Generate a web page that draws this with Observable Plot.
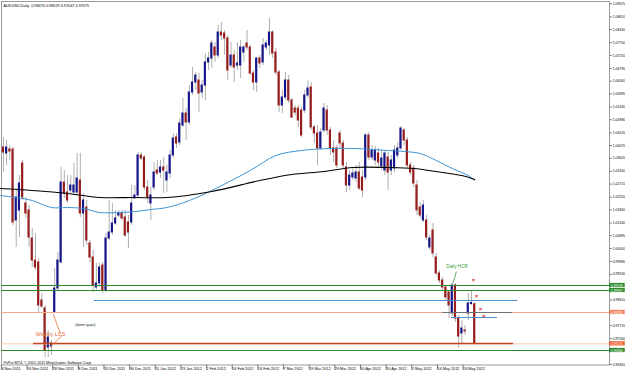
<!DOCTYPE html>
<html><head><meta charset="utf-8">
<script src="https://cdn.jsdelivr.net/npm/d3@7"></script>
<script src="https://cdn.jsdelivr.net/npm/@observablehq/plot@0.6"></script>
<style>
html,body{margin:0;padding:0;background:#fff;}
#chart svg{display:block;}
</style></head><body><div id="chart"></div>
<script>
const title = "AUDUSD,Daily  0.98470 0.98529 0.97047 0.97075";
const copyright = "PxPro MT4, \u00a9 2001-2011 MetaQuotes Software Corp.";

// Daily candles, 7 Nov 2011 .. 30 May 2012 (bar index 0..147)
const opens = [1.04001,1.03790,1.03931,1.03931,1.01426,1.01779,1.03437,1.02025,1.01779,1.00791,
1.00015,0.99945,0.98604,0.98322,0.96946,0.96982,0.98181,0.99027,0.99945,1.02766,
1.02414,1.02484,1.02414,1.02414,1.02837,1.01673,1.01884,1.00615,1.00121,0.99063,
0.99204,0.99839,0.98957,1.00791,1.01003,1.01320,1.01602,1.01673,1.01532,1.01355,
1.01355,1.02202,1.02308,1.03719,1.03648,1.02590,1.02025,1.02590,1.03190,1.03119,
1.03295,1.02837,1.03084,1.03719,1.04354,1.04178,1.04777,1.05200,1.04883,1.05941,
1.06294,1.06364,1.05941,1.06188,1.06999,1.07140,1.07528,1.07246,1.08057,1.08022,
1.07846,1.06893,1.07246,1.06893,1.06893,1.07352,1.07669,1.07528,1.06611,1.06294,
1.07140,1.06999,1.07528,1.07599,1.08057,1.07352,1.06646,1.05482,1.05765,1.06364,
1.05659,1.05377,1.05377,1.05306,1.05306,1.05835,1.06118,1.04707,1.04495,1.03966,
1.04601,1.05306,1.04601,1.03966,1.03966,1.04495,1.04142,1.03295,1.02661,1.02943,
1.02907,1.03119,1.02943,1.02943,1.04425,1.03648,1.03543,1.03790,1.03331,1.03190,
1.03648,1.03190,1.03260,1.03719,1.03966,1.04601,1.04248,1.03366,1.03260,1.02661,
1.01884,1.01426,1.01426,1.00474,1.01073,1.00121,0.99557,0.99310,0.99063,0.98886,
0.98146,0.99133,0.97969,0.97440,0.97546,0.98146,0.98481,0.98470];
const highs = [1.04354,1.04248,1.04072,1.04001,1.02484,1.03013,1.03543,1.02237,1.01955,1.01144,
1.00967,1.00086,0.98851,0.98428,0.97546,0.97193,0.99733,1.00297,1.03295,1.03190,
1.03013,1.03013,1.03437,1.03790,1.03790,1.02378,1.02131,1.00720,1.00368,0.99909,
0.99909,0.99945,1.00967,1.02131,1.02025,1.01779,1.01779,1.01779,1.01779,1.01602,
1.02661,1.02661,1.03825,1.03825,1.03719,1.02837,1.02590,1.03472,1.03543,1.03543,
1.03648,1.03366,1.03896,1.04495,1.04495,1.05024,1.05729,1.05377,1.06188,1.06823,
1.06646,1.06611,1.06364,1.07316,1.07352,1.07777,1.07705,1.08304,1.08410,1.08128,
1.07951,1.07705,1.07422,1.07705,1.07777,1.07599,1.08128,1.07599,1.06717,1.07175,
1.07246,1.07846,1.07777,1.08551,1.08128,1.07493,1.06717,1.06011,1.06646,1.06541,
1.05729,1.05482,1.05482,1.05412,1.06011,1.06364,1.06294,1.04777,1.04777,1.04671,
1.05553,1.05482,1.04707,1.04248,1.04072,1.04601,1.04248,1.03472,1.03190,1.03260,
1.03366,1.03472,1.03190,1.04495,1.04530,1.04072,1.04037,1.03966,1.03896,1.03896,
1.03825,1.03719,1.04072,1.04178,1.04742,1.04671,1.04354,1.03472,1.03366,1.02837,
1.02061,1.02131,1.01602,1.00897,1.01320,1.00262,0.99662,0.99416,0.99133,0.98957,
0.99239,0.99204,0.98075,0.97899,0.97722,0.98851,0.98957,0.98529];
const lows = [1.03119,1.03366,1.03543,1.01250,1.00474,1.00826,1.02131,1.01496,1.00474,0.99768,
0.99662,0.98146,0.98322,0.96593,0.96593,0.96664,0.98146,0.98957,0.99909,1.02202,
1.02025,1.02378,1.02308,1.02308,1.01532,1.00474,1.00544,0.99945,0.98886,0.98957,
0.99063,0.98851,0.98886,1.00720,1.00897,1.01250,1.01532,1.01426,1.00826,1.00438,
1.01250,1.02167,1.02237,1.03543,1.02484,1.02025,1.01426,1.02484,1.03013,1.02907,
1.02378,1.02414,1.02907,1.03613,1.03966,1.04072,1.04707,1.04248,1.04777,1.05835,
1.06011,1.05235,1.05729,1.05659,1.06717,1.06787,1.06999,1.07140,1.07777,1.07246,
1.06364,1.06787,1.06294,1.06717,1.06435,1.06999,1.07422,1.06541,1.06011,1.05941,
1.06787,1.06893,1.07422,1.07246,1.07140,1.06541,1.05235,1.05200,1.05659,1.05553,
1.05024,1.05130,1.04707,1.04354,1.05200,1.05729,1.04601,1.04142,1.03366,1.03896,
1.04495,1.04425,1.03719,1.03472,1.03260,1.03966,1.03260,1.02414,1.02484,1.02837,
1.02766,1.02484,1.02237,1.02837,1.03543,1.03543,1.03366,1.03331,1.03190,1.03013,
1.02484,1.03013,1.03119,1.03613,1.03896,1.04072,1.03260,1.03013,1.02590,1.01602,
1.01496,1.01355,1.00720,1.00368,1.00121,0.99486,0.99204,0.98957,0.98604,0.97969,
0.98040,0.97828,0.96911,0.97087,0.97370,0.97899,0.98428,0.97047];
const closes = [1.03825,1.04001,1.03860,1.01355,1.02237,1.02731,1.02237,1.01673,1.00826,1.00015,
0.99768,0.98428,0.98393,0.96840,0.97299,0.97087,0.99027,1.00015,1.02766,1.02378,
1.02131,1.02661,1.02661,1.02907,1.01673,1.02131,1.00720,1.00121,0.99133,0.99204,
0.99768,0.98957,1.00791,1.01003,1.01320,1.01496,1.01673,1.01496,1.00897,1.01003,
1.02025,1.02308,1.03719,1.03613,1.02590,1.02237,1.02308,1.03119,1.03084,1.03295,
1.03190,1.03119,1.03719,1.04319,1.04142,1.04848,1.05200,1.04883,1.05941,1.06294,
1.06541,1.05906,1.06188,1.06999,1.07140,1.07669,1.07246,1.08057,1.07951,1.07846,
1.06717,1.07246,1.06823,1.06964,1.07528,1.07528,1.07528,1.06611,1.06294,1.07140,
1.06964,1.07599,1.07669,1.08057,1.07316,1.06646,1.05482,1.05765,1.06364,1.05659,
1.05059,1.05235,1.04954,1.04425,1.05835,1.06082,1.04707,1.04495,1.03966,1.04530,
1.05377,1.04601,1.03966,1.03825,1.03366,1.04142,1.03366,1.02661,1.03013,1.03084,
1.03119,1.02555,1.02484,1.04425,1.03648,1.03896,1.03896,1.03472,1.03613,1.03790,
1.03119,1.03543,1.03896,1.03966,1.04671,1.04248,1.03366,1.03119,1.02731,1.01779,
1.01602,1.01955,1.00826,1.00791,1.00262,0.99557,0.99310,0.99063,0.98710,0.98428,
0.99133,0.97969,0.97335,0.97616,0.97511,0.98498,0.98516,0.97075];

// Moving averages (read at a few bars)
const maBlueIdx = [-1,4,9,15,20,25,30,36,41,46,51,58,65,77,85,93,102,109,120,125,130,135,140,145,147];
const maBlueVal = [1.02308,1.02237,1.02131,1.01884,1.01884,1.01849,1.01708,1.01708,1.01743,1.01814,1.01884,1.02131,1.02484,1.03190,1.03719,1.03896,1.03966,1.03966,1.03896,1.03860,1.03790,1.03543,1.03260,1.03013,1.02837];
const maBlackIdx = [-1,9,20,30,41,51,65,80,90,100,109,120,128,135,143,147];
const maBlackVal = [1.02555,1.02484,1.02378,1.02237,1.02237,1.02237,1.02449,1.02837,1.03048,1.03154,1.03295,1.03295,1.03260,1.03154,1.03013,1.02872];

// Horizontal levels across the whole chart
const levelPrices = [0.99133, 0.98957, 0.98181, 0.97075, 0.96840];
const levelKinds = ["green", "green", "orange", "bid", "green"];
// Horizontal segments
const segPrices = [0.98604, 0.98004, 0.98181, 0.97087];
const segFrom = [28.4, 139.8, 137, 9.4];
const segTo = [160.4, 154.1, 158.8, 159.1];
const segKinds = ["blue", "blue", "gray", "brown"];

// Axis ticks
const yTicks = [1.09070,1.08610,1.08160,1.07700,1.07250,1.06790,1.06340,1.05890,1.05430,1.04980,1.04520,1.04070,1.03620,1.03160,1.02710,1.02250,1.01800,1.01340,1.00890,1.00440,0.99980,0.99530,0.99070,0.98620,0.98170,0.97720,0.97260,0.96810,0.96350];
const dateIdx = [-1,7,15,23,31,39,47,55,63,71,79,87,95,103,111,119,127,135,143];
const dateLabels = ["4 Nov 2011","16 Nov 2011","28 Nov 2011","8 Dec 2011","20 Dec 2011","30 Dec 2011","11 Jan 2012","23 Jan 2012","2 Feb 2012","14 Feb 2012","24 Feb 2012","7 Mar 2012","19 Mar 2012","29 Mar 2012","10 Apr 2012","20 Apr 2012","2 May 2012","14 May 2012","24 May 2012"];

// Annotations
const noteTexts = ["Daily HCR", "Weekly LCS", "(damn gaps)"];
const noteIdx = [141.5, 14.7, 25.6];
const notePrices = [0.99804, 0.97405, 0.97758];
const noteKinds = ["green", "orange", "black"];
const pointerFromIdx = [141.3, 15.5, 14.5];
const pointerFromPrice = [0.99627, 0.98135, 0.96957];
const pointerToIdx = [140.3, 17.8, 18.3];
const pointerToPrice = [0.99239, 0.97430, 0.97370];
const pointerKinds = ["green", "orange", "orange"];
const markIdx = [146.6, 147.6, 148.8, 149.8];
const markPrices = [0.99310, 0.98745, 0.98287, 0.98040];

// ---- styles ----
const kindColor = {green: "#2c8a2c", orange: "#f0a888", bid: "#f5cbb6", blue: "#4a8fd2", gray: "#707070", brown: "#c2461f", black: "#222"};
const boxColor = {green: "#2c8a2c", orange: "#f0805c", bid: "#ec5a2c"};
const textColor = {green: "#3a9a3a", orange: "#e8703c", black: "#222"};
const FONT = "'Liberation Sans', Arial, sans-serif";

const bars = d3.range(opens.length).map(i => ({i, o: opens[i], h: highs[i], l: lows[i], c: closes[i]}));
const maBlue = maBlueIdx.map((x, j) => ({x, y: maBlueVal[j]}));
const maBlack = maBlackIdx.map((x, j) => ({x, y: maBlackVal[j]}));
const levels = levelPrices.map((v, j) => ({v, k: levelKinds[j]}));
const segs = segPrices.map((v, j) => ({v, x1: segFrom[j], x2: segTo[j], k: segKinds[j]}));
const notes = noteTexts.map((t, j) => ({t, x: noteIdx[j], y: notePrices[j], k: noteKinds[j]}));
const pointers = pointerKinds.map((k, j) => ({x1: pointerFromIdx[j], y1: pointerFromPrice[j], x2: pointerToIdx[j], y2: pointerToPrice[j], k}));
const marks = markIdx.map((x, j) => ({x, y: markPrices[j]}));
const dateMap = new Map(dateIdx.map((d, j) => [d, dateLabels[j]]));
// tick labels hidden behind the coloured price boxes (as on the terminal)
const visibleTicks = yTicks.filter(t => !levelPrices.some(v => Math.abs(v - t) < 0.0013));

const xDomain = [-0.59, 189.05];
const yDomain = [0.96329, 1.09151];
const boxW = 4.9;   // width of price boxes in bar units (right margin)
const boxH = 0.00148;

const chart = Plot.plot({
  width: 625, height: 372,
  marginLeft: 1, marginRight: 16, marginTop: 1, marginBottom: 7.5,
  x: {domain: xDomain, axis: null},
  y: {domain: yDomain, axis: null},
  style: {fontFamily: FONT, background: "#fff", color: "#000"},
  marks: [
    Plot.frame({stroke: "#9a9a9a"}),
    // candles
    Plot.ruleX(bars, {x: "i", y1: "l", y2: "h", stroke: "#b0b0b0", strokeWidth: 1}),
    Plot.rect(bars, {x1: d => d.i - 0.34, x2: d => d.i + 0.34, y1: "o", y2: "c", insetTop: -0.5, insetBottom: -0.5,
      fill: d => d.c >= d.o ? "#16168a" : "#981c1c"}),
    // moving averages
    Plot.line(maBlue, {x: "x", y: "y", stroke: "#3d93d6", strokeWidth: 1, curve: "catmull-rom"}),
    Plot.line(maBlack, {x: "x", y: "y", stroke: "#000", strokeWidth: 1.1, curve: "catmull-rom"}),
    // horizontal lines
    Plot.ruleY(levels, {y: "v", stroke: d => kindColor[d.k], strokeWidth: d => d.k === "green" ? 1.2 : 1}),
    Plot.ruleY(segs, {y: "v", x1: "x1", x2: "x2", stroke: d => kindColor[d.k], strokeWidth: d => d.k === "brown" ? 1.3 : 1}),
    // annotations
    Plot.link(pointers, {x1: "x1", y1: "y1", x2: "x2", y2: "y2", stroke: d => textColor[d.k], strokeWidth: 0.8}),
    Plot.text(notes, {x: "x", y: "y", text: "t", fill: d => textColor[d.k],
      fontSize: d => d.k === "black" ? 3.6 : d.k === "orange" ? 5.4 : 4.6,
      textAnchor: d => d.k === "orange" ? "start" : "middle"}),
    Plot.text(marks, {x: "x", y: "y", text: () => "\u00d7", fill: "#e02020", fontSize: 6, fontWeight: "bold"}),
    // texts in the chart
    Plot.text([title], {frameAnchor: "top-left", dx: 2, dy: 2.5, lineAnchor: "top", textAnchor: "start", fontSize: 3.8, fill: "#000"}),
    Plot.text([copyright], {frameAnchor: "bottom-left", dx: 2, dy: -1, lineAnchor: "bottom", textAnchor: "start", fontSize: 3.7, fill: "#000"}),
    // axes
    Plot.axisY(visibleTicks, {anchor: "right", tickSize: 2, tickPadding: 1.2, fontSize: 3.5, tickFormat: d => d.toFixed(5), stroke: "#777"}),
    Plot.axisX(dateIdx, {anchor: "bottom", tickSize: 5, tickPadding: -3.2, textAnchor: "start", dx: 1.2, fontSize: 3.8, tickFormat: d => dateMap.get(d), stroke: "#777"}),
    // price boxes on the axis
    Plot.rect(levels, {x1: xDomain[1], x2: xDomain[1] + boxW, y1: d => d.v - boxH / 2, y2: d => d.v + boxH / 2, fill: d => boxColor[d.k]}),
    Plot.text(levels, {x: xDomain[1], y: "v", dx: 1.5, text: d => d.v.toFixed(5), textAnchor: "start", fill: "#fff", fontSize: 3.3})
  ]
});
document.getElementById("chart").appendChild(chart);
</script>
</body></html>
